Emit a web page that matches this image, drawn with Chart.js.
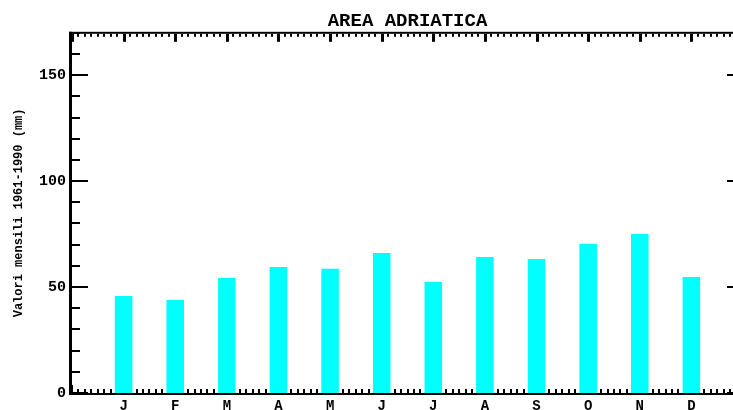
<!DOCTYPE html>
<html>
<head>
<meta charset="utf-8">
<script src="https://cdn.jsdelivr.net/npm/chart.js@4.4.0/dist/chart.umd.min.js"></script>
<style>
html,body{margin:0;padding:0;background:#fff;overflow:hidden;}
canvas{display:block;}
</style>
</head>
<body>
<canvas id="c" width="760" height="410" style="width:760px;height:410px"></canvas>
<script>
const titleText = 'AREA ADRIATICA';
const yTitle = 'Valori mensili 1961-1990 (mm)';
const months = ['J','F','M','A','M','J','J','A','S','O','N','D'];
const values = [45.8, 43.9, 54.3, 59.5, 58.6, 66.1, 52.4, 64.2, 63.3, 70.4, 75.1, 54.8];
const yTickLabels = [0, 50, 100, 150];

const points = values.map((v, i) => ({x: i + 1, y: v}));

const axesPlugin = {
  id: 'idlAxes',
  beforeDatasetsDraw(chart) {
    const ctx = chart.ctx;
    const a = chart.chartArea;
    const xs = chart.scales.x, ys = chart.scales.y;
    ctx.save();
    ctx.fillStyle = '#000';
    // frame
    ctx.fillRect(a.left - 3, a.top - 1, 3, a.bottom - a.top + 3);
    ctx.fillRect(a.right, a.top - 1, 3, a.bottom - a.top + 3);
    ctx.fillRect(a.left - 3, a.bottom, a.right - a.left + 6, 2);
    ctx.fillRect(a.left - 3, a.top - 1, a.right - a.left + 6, 2);
    // y ticks
    for (let v = 0; v <= 170; v += 10) {
      const y = Math.round(ys.getPixelForValue(v));
      const len = (v % 50 === 0) ? 16 : 8;
      ctx.fillRect(a.left, y - 1, len, 2);
      ctx.fillRect(a.right - len, y - 1, len, 2);
    }
    // x ticks
    for (let i = 0; i <= 13 * 8; i++) {
      const x = Math.round(xs.getPixelForValue(i / 8));
      const major = i % 8 === 0;
      const lb = major ? 8 : 4;
      const lt = major ? 8 : 3;
      ctx.fillRect(x - 1, a.bottom - lb, 2, lb);
      ctx.fillRect(x - 1, a.top + 1, major ? 3 : 2, lt);
    }
    ctx.restore();
  }
};

new Chart(document.getElementById('c'), {
  type: 'bar',
  data: {
    datasets: [{
      data: points,
      backgroundColor: '#00FFFF',
      borderWidth: 0,
      barPercentage: 0.34,
      categoryPercentage: 1.0
    }]
  },
  options: {
    responsive: false,
    devicePixelRatio: 1,
    animation: false,
    layout: { padding: { left: 0, right: 17, top: 0, bottom: 0 } },
    plugins: {
      legend: { display: false },
      tooltip: { enabled: false },
      title: {
        display: true,
        text: titleText,
        fullSize: false,
        color: '#000',
        font: { family: 'Liberation Mono', size: 19, weight: 'bold', lineHeight: 1.2 },
        padding: { top: 10, bottom: 0 }
      }
    },
    scales: {
      x: {
        type: 'linear',
        min: 0, max: 13,
        offset: false,
        grid: { display: false, drawTicks: false },
        border: { display: false },
        ticks: {
          stepSize: 1,
          autoSkip: false,
          maxRotation: 0,
          padding: 5,
          color: '#000',
          font: { family: 'Liberation Mono', size: 14, weight: 'bold' },
          callback: (v) => (v >= 1 && v <= 12 && Number.isInteger(v)) ? months[v - 1] : ''
        },
        afterFit: (s) => { s.height = 17; }
      },
      y: {
        min: 0, max: 170,
        grid: { display: false, drawTicks: false },
        border: { display: false },
        ticks: {
          stepSize: 50,
          padding: 6,
          color: '#000',
          font: { family: 'Liberation Mono', size: 15, weight: 'bold' },
          callback: (v) => yTickLabels.includes(v) ? String(v) : ''
        },
        title: {
          display: true,
          text: yTitle,
          color: '#000',
          font: { family: 'Liberation Mono', size: 12, weight: 'bold', lineHeight: 1.2 },
          padding: { top: 12, bottom: 0 }
        },
        afterFit: (s) => { s.width = 72; }
      }
    }
  },
  plugins: [axesPlugin]
});
</script>
</body>
</html>
